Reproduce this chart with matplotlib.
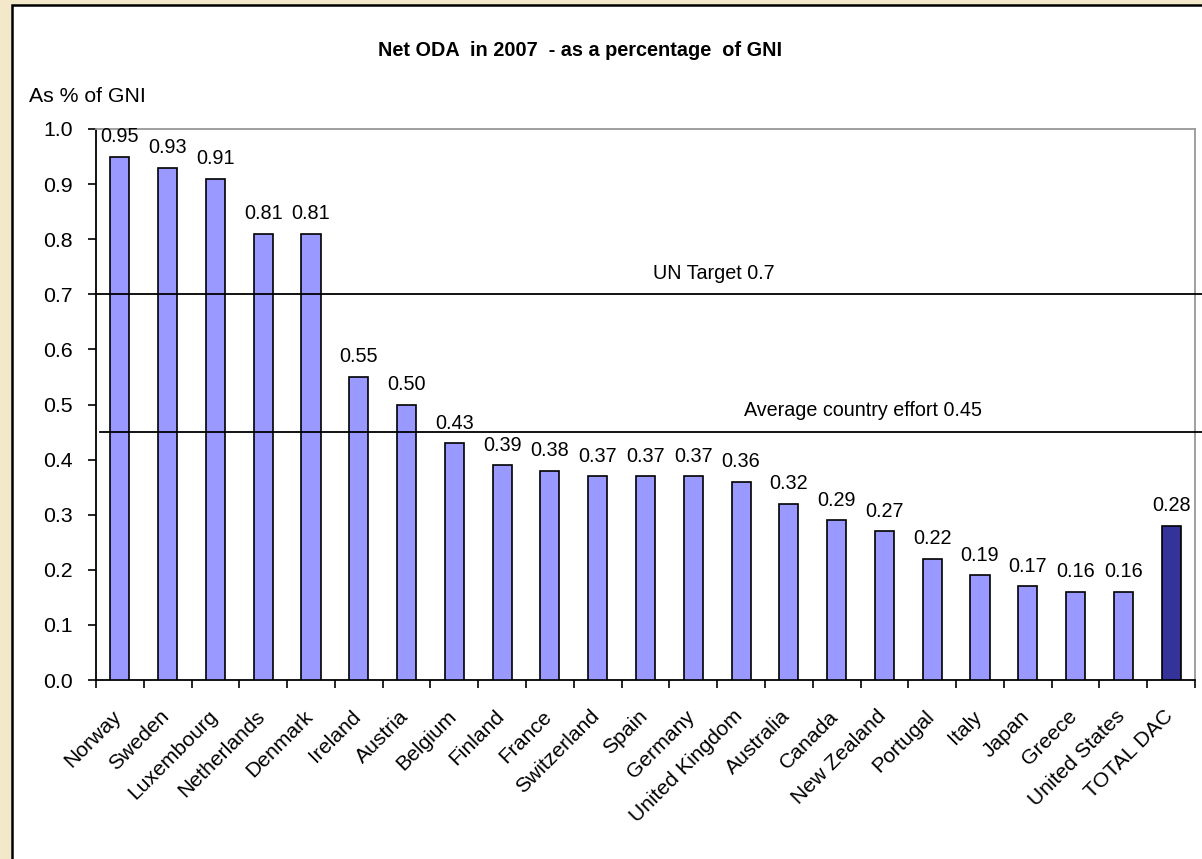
#!/usr/bin/env python

import numpy as np
import matplotlib
matplotlib.use('Agg')
import matplotlib.pyplot as plt
from matplotlib.patches import Rectangle
import matplotlib.transforms as mtransforms

# data
countries = ['Norway', 'Sweden', 'Luxembourg', 'Netherlands', 'Denmark', 'Ireland',
             'Austria', 'Belgium', 'Finland', 'France', 'Switzerland', 'Spain',
             'Germany', 'United Kingdom', 'Australia', 'Canada', 'New Zealand',
             'Portugal', 'Italy', 'Japan', 'Greece', 'United States', 'TOTAL DAC']
oda_pct = [0.95, 0.93, 0.91, 0.81, 0.81, 0.55, 0.50, 0.43, 0.39, 0.38, 0.37, 0.37,
           0.37, 0.36, 0.32, 0.29, 0.27, 0.22, 0.19, 0.17, 0.16, 0.16, 0.28]
un_target = 0.7
avg_effort = 0.45

plt.rcParams['font.family'] = ['Liberation Sans', 'DejaVu Sans']

fig = plt.figure(figsize=(12.02, 8.59), dpi=100)
fig.patch.set_facecolor('#F4E8CA')

# white chart panel with black frame
W, H = 1202.0, 859.0
panel = Rectangle((12 / W, -0.05), 1.1, 1 - 5 / H + 0.05, transform=fig.transFigure,
                  facecolor='white', edgecolor='black', linewidth=1.8, zorder=-5)
fig.patches.append(panel)

ax = fig.add_axes([96 / W, 1 - 680 / H, (1195 - 96) / W, (680 - 129) / H])
ax.set_zorder(2)
ax.set_facecolor('white')

x = np.arange(len(countries))
colors = ['#9999FF'] * (len(countries) - 1) + ['#333399']
ax.bar(x, oda_pct, width=0.4, color=colors, edgecolor='black', linewidth=1.2, zorder=3)

for xi, v in zip(x, oda_pct):
    ax.text(xi, v + 0.019, '%.2f' % v, ha='center', va='bottom', fontsize=14.3)

ax.set_xlim(-0.5, len(countries) - 0.5)
ax.set_ylim(0, 1.0)
ax.set_yticks(np.arange(0, 1.01, 0.1))
ax.set_yticklabels(['%.1f' % t for t in np.arange(0, 1.01, 0.1)], fontsize=15.3)

ax.set_xticks(x)
ax.set_xticklabels(countries, rotation=45, ha='right', rotation_mode='anchor', fontsize=15.2)
ax.set_xticks(np.arange(-0.5, len(countries)), minor=True)
ax.tick_params(axis='x', which='major', length=0, pad=12)
ax.tick_params(axis='x', which='minor', length=6, width=1.2, direction='out')
ax.tick_params(axis='y', length=6, width=1.2, direction='out', pad=11)

# nudge the slanted country names a bit down and left
shift = mtransforms.ScaledTranslation(-8 / 100, -10 / 100, fig.dpi_scale_trans)
for lab in ax.get_xticklabels():
    lab.set_transform(lab.get_transform() + shift)

for s in ['left', 'bottom']:
    ax.spines[s].set_color('black')
    ax.spines[s].set_linewidth(1.3)
for s in ['top', 'right']:
    ax.spines[s].set_color('#999999')
    ax.spines[s].set_linewidth(1.3)

# reference lines run a little past the plot area
trans = mtransforms.blended_transform_factory(ax.transAxes, ax.transData)
ax.plot([0, 1.01], [un_target, un_target], color='black', lw=1.3, transform=trans,
        clip_on=False, zorder=4)
ax.plot([0.004, 1.01], [avg_effort, avg_effort], color='black', lw=1.3, transform=trans,
        clip_on=False, zorder=4)
ax.text(12.43, 0.738, 'UN Target 0.7', ha='center', va='center', fontsize=14.2)
ax.text(18.05, 0.49, 'Average country effort 0.45', ha='right', va='center', fontsize=14.2)

fig.text(580 / W, 1 - 51 / H, 'Net ODA  in 2007  - as a percentage  of GNI',
         ha='center', va='center', fontsize=14.3, fontweight='bold')
fig.text(29 / W, 1 - 97 / H, 'As % of GNI', ha='left', va='center', fontsize=15.3)

fig.savefig('out.png', dpi=100, facecolor=fig.get_facecolor())
